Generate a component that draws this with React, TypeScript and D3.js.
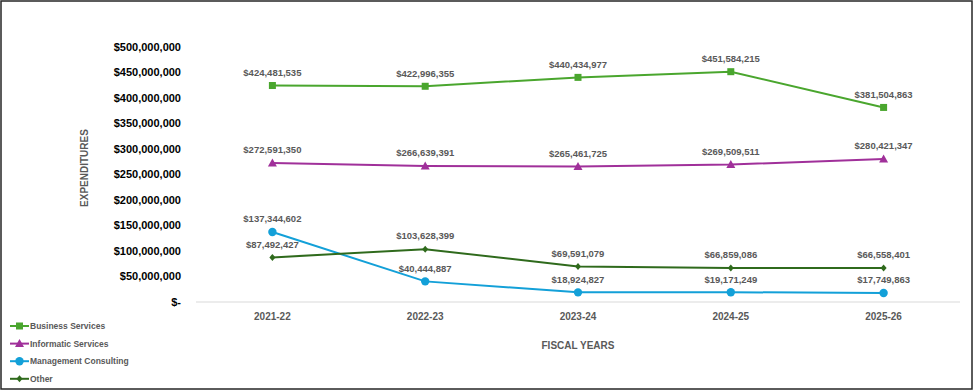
import React from "react";
import * as d3 from "d3";

const years = ["2021-22", "2022-23", "2023-24", "2024-25", "2025-26"];
const businessServices = [424481535, 422996355, 440434977, 451584215, 381504863];
const informaticServices = [272591350, 266639391, 265461725, 269509511, 280421347];
const managementConsulting = [137344602, 40444887, 18924827, 19171249, 17749863];
const other = [87492427, 103628399, 69591079, 66859086, 66558401];
const yTicks = [0, 50000000, 100000000, 150000000, 200000000, 250000000, 300000000, 350000000, 400000000, 450000000, 500000000];

const seriesNames = ["Business Services", "Informatic Services", "Management Consulting", "Other"];
const seriesColors = ["#4aa62e", "#a0309a", "#13a0d8", "#2f6a1c"];
const seriesMarkers = ["square", "triangle", "circle", "diamond"];

const W = 975, H = 391;
const font = "'Liberation Sans', Arial, sans-serif";

function Marker({ type, x, y, color }: { type: string; x: number; y: number; color: string }) {
  if (type === "square") return <rect x={x - 3.5} y={y - 3.5} width={7} height={7} fill={color} />;
  if (type === "triangle") return <path d={`M${x},${y - 4.5}L${x + 4.5},${y + 3.5}L${x - 4.5},${y + 3.5}Z`} fill={color} />;
  if (type === "circle") return <circle cx={x} cy={y} r={4.2} fill={color} />;
  return <path d={`M${x},${y - 3.5}L${x + 3},${y}L${x},${y + 3.5}L${x - 3},${y}Z`} fill={color} />;
}

export default function App() {
  const x = d3.scaleBand().domain(years).range([196, 960]);
  const y = d3.scaleLinear().domain([0, 500000000]).range([302, 47]);
  const fmtMoney = (v: number) => (v === 0 ? "$-" : "$" + d3.format(",")(v));
  const allSeries = [businessServices, informaticServices, managementConsulting, other];
  const cx = (d: string) => (x(d) as number) + x.bandwidth() / 2;
  const line = d3.line<number>().x((_, i) => cx(years[i])).y((v) => y(v));

  return (
    <svg width={W} height={H} style={{ position: "fixed", left: 0, top: 0, background: "#fff" }} fontFamily={font}>
      <rect x={1} y={1} width={W - 4} height={H - 3} fill="#fff" stroke="#262626" strokeWidth={1.5} />
      {yTicks.map((t) => (
        <text key={t} x={181} y={y(t)} dy="0.35em" textAnchor="end" fontSize={11} fontWeight="bold" fill="#000">
          {fmtMoney(t)}
        </text>
      ))}
      <line x1={196} x2={960} y1={y(0)} y2={y(0)} stroke="#d9d9d9" strokeWidth={1} />
      {years.map((yr) => (
        <text key={yr} x={cx(yr)} y={316} dy="0.35em" textAnchor="middle" fontSize={10} fontWeight="bold" fill="#595959">
          {yr}
        </text>
      ))}
      <text x={578} y={345} dy="0.35em" textAnchor="middle" fontSize={10} fontWeight="bold" fill="#595959">
        FISCAL YEARS
      </text>
      <text transform={`translate(84,168) rotate(-90)`} dy="0.35em" textAnchor="middle" fontSize={10} fontWeight="bold" fill="#595959">
        EXPENDITURES
      </text>
      {allSeries.map((s, si) => (
        <g key={si}>
          <path d={line(s) || ""} fill="none" stroke={seriesColors[si]} strokeWidth={2} />
          {s.map((v, i) => (
            <Marker key={i} type={seriesMarkers[si]} x={cx(years[i])} y={y(v)} color={seriesColors[si]} />
          ))}
          {s.map((v, i) => (
            <text key={"l" + i} x={cx(years[i])} y={y(v) - 13} dy="0.35em" textAnchor="middle" fontSize={9.5} fontWeight="bold" fill="#595959">
              {fmtMoney(v)}
            </text>
          ))}
        </g>
      ))}
      {seriesNames.map((n, i) => {
        const ly = 326 + i * 17.6;
        return (
          <g key={n}>
            <line x1={10} x2={29} y1={ly} y2={ly} stroke={seriesColors[i]} strokeWidth={2} />
            <Marker type={seriesMarkers[i]} x={19.5} y={ly} color={seriesColors[i]} />
            <text x={30} y={ly} dy="0.35em" fontSize={8.5} fontWeight="bold" fill="#595959">
              {n}
            </text>
          </g>
        );
      })}
    </svg>
  );
}
